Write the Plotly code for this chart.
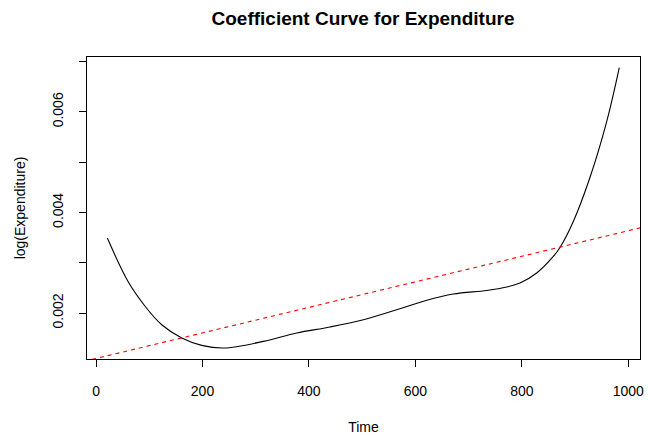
import plotly.graph_objects as go

# Coefficient curve
time_vals = [21.2, 60.7, 92.1, 123.4, 161.0, 198.6, 240.0, 314.3, 377.0, 439.6,
             502.2, 564.9, 620.0, 671.2, 734.0, 771.6, 796.5, 827.9, 859.1, 871.7,
             896.7, 928.1, 959.4, 983.1]
coef_vals = [0.003491, 0.002615, 0.002135, 0.001767, 0.001503, 0.001356, 0.001303,
             0.001435, 0.001602, 0.001722, 0.001867, 0.002066, 0.002250, 0.002378,
             0.002449, 0.002517, 0.002596, 0.002795, 0.003125, 0.003304, 0.003821,
             0.004700, 0.005809, 0.006883]

# Reference straight line (abline)
line_intercept = 0.001096
line_slope = 2.541e-6

x_range = [-17.0, 1022.0]
y_range = [0.001085, 0.007093]
x_ticks = [0, 200, 400, 600, 800, 1000]
y_ticks = [0.002, 0.003, 0.004, 0.005, 0.006, 0.007]
y_ticklabels = ["0.002", "", "0.004", "", "0.006", ""]

title_text = "Coefficient Curve for Expenditure"
x_title = "Time"
y_title = "log(Expenditure)"

font_family = "Liberation Sans, Arial, Helvetica, sans-serif"

fig = go.Figure()
fig.add_trace(go.Scatter(
    x=time_vals, y=coef_vals, mode="lines",
    line=dict(color="black", width=1.1, shape="spline", smoothing=1.0),
    showlegend=False, hoverinfo="skip"))

line_x = [x_range[0] - 5, x_range[1] + 5]
line_y = [line_intercept + line_slope * v for v in line_x]
fig.add_trace(go.Scatter(
    x=line_x, y=line_y, mode="lines",
    line=dict(color="red", width=1.1, dash="4px,4px"),
    showlegend=False, hoverinfo="skip"))

axis_common = dict(
    showgrid=False, zeroline=False, showline=True, mirror=True,
    linecolor="black", linewidth=1, ticks="outside", ticklen=7,
    tickcolor="black", tickwidth=1, automargin=False,
    tickfont=dict(family=font_family, size=14, color="black"),
)

fig.update_layout(
    width=648, height=439,
    margin=dict(l=87, r=8, t=57, b=80),
    paper_bgcolor="white", plot_bgcolor="white",
    font=dict(family=font_family, color="black"),
    title=dict(text="<b>" + title_text + "</b>", x=363 / 648, xanchor="center",
               y=1 - 18 / 439, yanchor="middle",
               font=dict(family=font_family, size=19, color="black")),
    xaxis=dict(range=x_range, tickvals=x_ticks,
               ticktext=[str(v) for v in x_ticks],
               ticklabelstandoff=12,
               title=dict(text=x_title, standoff=24,
                          font=dict(family=font_family, size=14, color="black")),
               **axis_common),
    yaxis=dict(range=y_range, tickvals=y_ticks, ticktext=y_ticklabels,
               tickangle=-90, ticklabelstandoff=10,
               title=dict(text=y_title, standoff=21,
                          font=dict(family=font_family, size=14, color="black")),
               **axis_common),
)

fig.write_html("out.html", config={"displayModeBar": False},
               post_script="document.body.style.margin='0';")
